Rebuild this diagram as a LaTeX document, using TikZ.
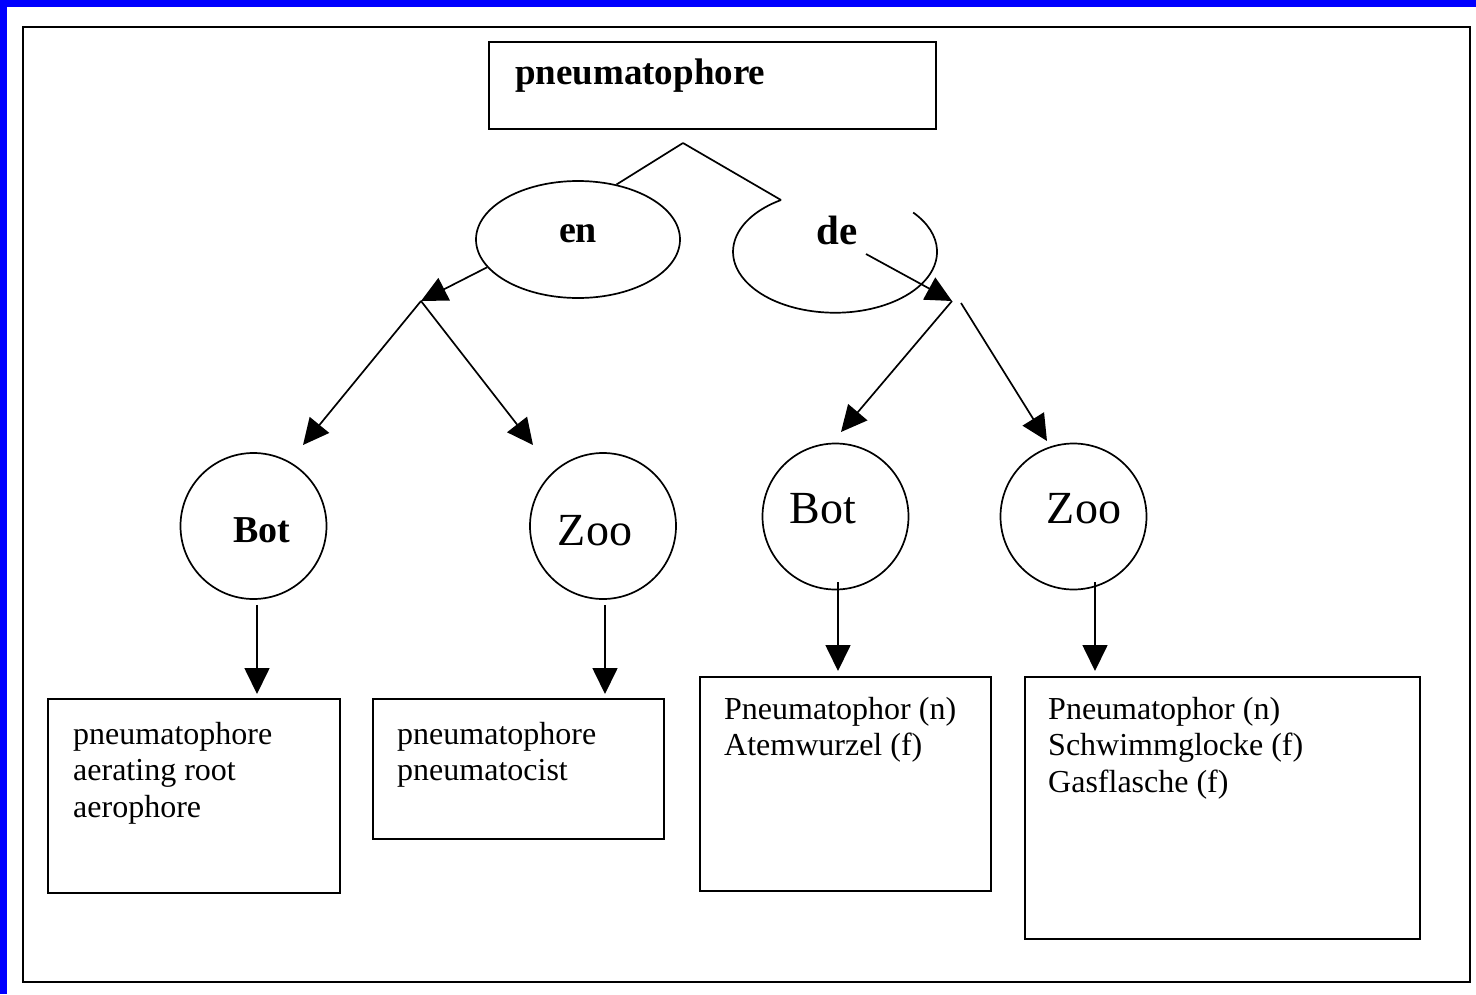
\documentclass[tikz,border=0pt]{standalone}
\usepackage{fontspec}
\setmainfont{Liberation Serif}
\usetikzlibrary{arrows.meta,shapes.geometric}

\begin{document}
\begin{tikzpicture}[x=1pt,y=-1pt,
  stroke/.style={line width=1.7pt},
  tip/.style={stroke,-{Triangle[length=26pt,width=25pt]}},
  panel/.style={draw,stroke,inner sep=0pt,anchor=north west},
  oval/.style={ellipse,inner sep=0pt,minimum width=204pt},
  disc/.style={circle,draw,stroke,inner sep=0pt,minimum size=146pt},
  body/.style={inner sep=0pt,anchor=base west,font=\fontsize{32}{36.5}\selectfont},
  circlabel/.style={inner sep=0pt,anchor=base,font=\fontsize{46}{50}\selectfont},
  boldlabel/.style={inner sep=0pt,anchor=base,font=\bfseries\fontsize{38}{40}\selectfont}]

\useasboundingbox (0,0) rectangle (1476,994);

% window edge and outer frame
\fill[blue] (0,0) rectangle (1476,7);
\fill[blue] (0,0) rectangle (7,994);
\draw[line width=2pt] (23,27) rectangle (1470,982);

% headword
\node[panel,minimum width=447pt,minimum height=87pt] (head) at (488,41) {};
\node[inner sep=0pt,anchor=base west,font=\bfseries\fontsize{37}{40}\selectfont]
  (headtext) at (515,84) {pneumatophore};

% language ovals
\coordinate (apex) at (683,143);
\node[oval,draw,stroke,minimum height=117pt] (en) at (578,239.5) {};
\node[boldlabel] (entext) at (578,242) {en};
\node[oval,minimum height=122pt] (de) at (835,252) {};
\node[boldlabel,font=\bfseries\fontsize{41}{44}\selectfont] (detext) at (837,244) {de};
\coordinate (deopen) at (781,200);
\draw[stroke] (deopen) arc[start angle=122,end angle=400,x radius=102pt,y radius=61pt];

\draw[stroke] (apex) -- (en.55);
\draw[stroke] (apex) -- (deopen);

% branch points
\coordinate (jl) at (421,301);
\coordinate (jr) at (952,301);
\coordinate (jr2) at (961,303);
\coordinate (deinner) at (866,254);
\coordinate (tipa) at (303,445);
\coordinate (tipb) at (533,445);
\coordinate (tipc) at (841,432);
\coordinate (tipd) at (1047,441);

\draw[tip] (en.197) -- (jl);
\draw[tip] (jl) -- (tipa);
\draw[tip] (jl) -- (tipb);
\draw[tip] (deinner) -- (jr);
\draw[tip] (jr) -- (tipc);
\draw[tip] (jr2) -- (tipd);

% domain circles
\node[disc] (botE) at (253.5,526) {};
\node[boldlabel] (botEtext) at (262,542) {Bot};
\node[disc] (zooE) at (603,526) {};
\node[circlabel] (zooEtext) at (595,545) {Zoo};
\node[disc] (botD) at (835.5,516.5) {};
\node[circlabel] (botDtext) at (823,523) {Bot};
\node[disc] (zooD) at (1073.5,516.5) {};
\node[circlabel] (zooDtext) at (1084,523) {Zoo};

% term boxes
\node[panel,minimum width=292pt,minimum height=194pt] (termA) at (47,698) {};
\node[panel,minimum width=291pt,minimum height=140pt] (termB) at (372,698) {};
\node[panel,minimum width=291pt,minimum height=214pt] (termC) at (699,676) {};
\node[panel,minimum width=395pt,minimum height=262pt] (termD) at (1024,676) {};

\node[body] (termAtext) at (73,744)
  {\parbox[t]{250pt}{pneumatophore\\aerating root\\aerophore}};
\node[body] (termBtext) at (397,744)
  {\parbox[t]{250pt}{pneumatophore\\pneumatocist}};
\node[body] (termCtext) at (724,719)
  {\parbox[t]{250pt}{Pneumatophor (n)\\Atemwurzel (f)}};
\node[body] (termDtext) at (1048,719)
  {\parbox[t]{350pt}{Pneumatophor (n)\\Schwimmglocke (f)\\Gasflasche (f)}};

% circle-to-box arrows
\coordinate (xa) at (257,0);
\coordinate (xb) at (605,0);
\coordinate (xc) at (838,0);
\coordinate (xd) at (1095,0);
\draw[tip,shorten <=5pt,shorten >=4pt] (botE.south -| xa) -- (termA.north -| xa);
\draw[tip,shorten <=5pt,shorten >=4pt] (zooE.south -| xb) -- (termB.north -| xb);
\draw[tip,shorten <=-8pt,shorten >=5pt] (botD.south -| xc) -- (termC.north -| xc);
\draw[tip,shorten <=-8pt,shorten >=5pt] (zooD.south -| xd) -- (termD.north -| xd);
\end{tikzpicture}
\end{document}
